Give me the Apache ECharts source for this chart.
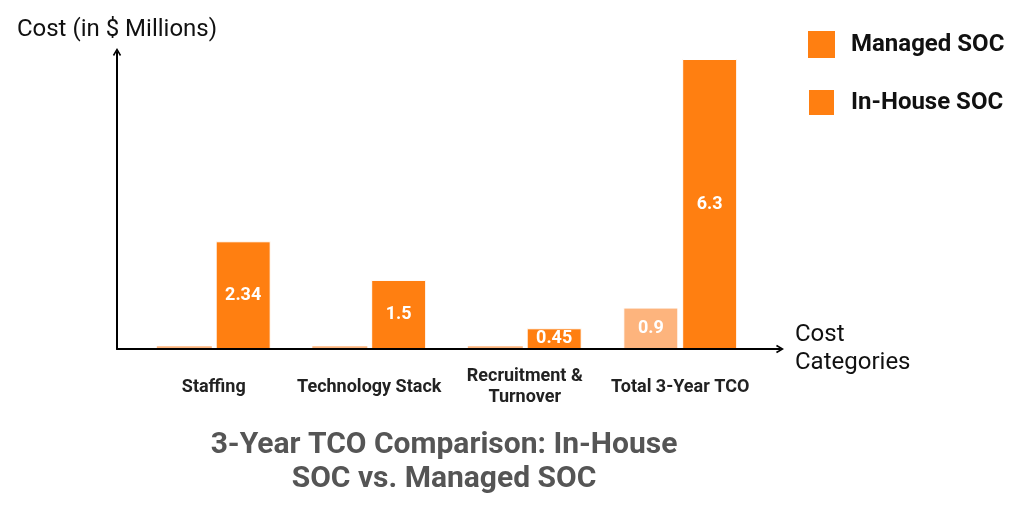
<!DOCTYPE html>
<html lang="en">
  <head>
    <meta charset="UTF-8" />
    <title>3-Year TCO Comparison</title>
    <script src="https://cdn.jsdelivr.net/npm/echarts@6/dist/echarts.min.js"></script>
    <style>
      html, body { margin: 0; padding: 0; background: #fff; }
      #main { width: 1024px; height: 512px; }
    </style>
  </head>
  <body>
    <div id="main"></div>
    <script>
      var categories = ["Staffing", "Technology Stack", "Recruitment &\nTurnover", "Total 3-Year TCO"];
      var managedSOC = [0.06, 0.06, 0.06, 0.9];
      var inHouseSOC = [2.34, 1.5, 0.45, 6.3];

      var dark = "#FF7F11";
      var light = "#FDB47D";
      var arrow = "path://M0,8.5 L5,0 L10,8.5 L8.4,9.6 L5,3.6 L1.6,9.6 Z";

      var chartDom = document.getElementById("main");
      var myChart = echarts.init(chartDom);
      var option;
      option = {
        animation: false,
        textStyle: { fontFamily: "Roboto" },
        title: {
          text: "3-Year TCO Comparison: In-House\nSOC vs. Managed SOC",
          left: 439,
          textAlign: "center",
          top: 423,
          textStyle: { fontSize: 30, lineHeight: 34, fontWeight: "bold", color: "#555" },
        },
        legend: {
          orient: "vertical",
          left: 807,
          top: 31,
          padding: 0,
          itemWidth: 27,
          itemHeight: 27,
          itemGap: 30,
          icon: "rect",
          textStyle: { fontSize: 24, fontWeight: "bold", color: "#111", padding: [4, 0, 0, 11] },
          data: ["Managed SOC", "In-House SOC"],
        },
        grid: [
          { left: 136, right: 266, top: 59, bottom: 163 },
          { left: 117, right: 244, top: 52, bottom: 163 },
        ],
        xAxis: [
          {
            type: "category",
            gridIndex: 0,
            data: categories,
            axisLine: { show: false },
            axisTick: { show: false },
            axisLabel: {
              interval: 0,
              margin: 38,
              verticalAlign: "middle",
              fontSize: 18,
              fontWeight: "bold",
              color: "#222",
              lineHeight: 21,
            },
          },
          {
            type: "value",
            gridIndex: 1,
            min: 0,
            max: 1,
            z: 5,
            axisLine: {
              show: true,
              lineStyle: { color: "#000", width: 2 },
              symbol: ["none", arrow],
              symbolSize: [14, 8],
            },
            axisTick: { show: false },
            axisLabel: { show: false },
            splitLine: { show: false },
            name: "Cost\nCategories",
            nameLocation: "end",
            nameGap: 15,
            nameTextStyle: { fontSize: 24, color: "#111", align: "left", verticalAlign: "middle", lineHeight: 28 },
          },
        ],
        yAxis: [
          {
            type: "value",
            gridIndex: 0,
            min: 0,
            max: 6.3,
            axisLine: { show: false },
            axisTick: { show: false },
            axisLabel: { show: false },
            splitLine: { show: false },
          },
          {
            type: "value",
            gridIndex: 1,
            min: 0,
            max: 1,
            z: 5,
            axisLine: {
              show: true,
              lineStyle: { color: "#000", width: 2 },
              symbol: ["none", arrow],
              symbolSize: [14, 8],
            },
            axisTick: { show: false },
            axisLabel: { show: false },
            splitLine: { show: false },
            name: "Cost (in $ Millions)",
            nameLocation: "end",
            nameGap: 22,
            nameTextStyle: { fontSize: 24, color: "#111", align: "center", verticalAlign: "middle" },
          },
        ],
        series: [
          {
            name: "Managed SOC",
            type: "bar",
            xAxisIndex: 0,
            yAxisIndex: 0,
            barWidth: 55,
            barGap: "7%",
            itemStyle: { color: dark },
            data: managedSOC.map(function (v) {
              return { value: v, itemStyle: { color: light, borderColor: "#fff", borderWidth: v < 0.1 ? 0 : 1 } };
            }),
            label: {
              show: true,
              position: "inside",
              color: "#fff",
              fontSize: 18,
              fontWeight: "bold",
              formatter: function (p) { return p.value < 0.1 ? "" : p.value; },
            },
          },
          {
            name: "In-House SOC",
            type: "bar",
            xAxisIndex: 0,
            yAxisIndex: 0,
            barWidth: 55,
            itemStyle: { color: dark, borderColor: "#fff", borderWidth: 1 },
            data: inHouseSOC,
            label: {
              show: true,
              position: "inside",
              color: "#fff",
              fontSize: 18,
              fontWeight: "bold",
            },
          },
        ],
      };
      option && myChart.setOption(option);
    </script>
  </body>
</html>
